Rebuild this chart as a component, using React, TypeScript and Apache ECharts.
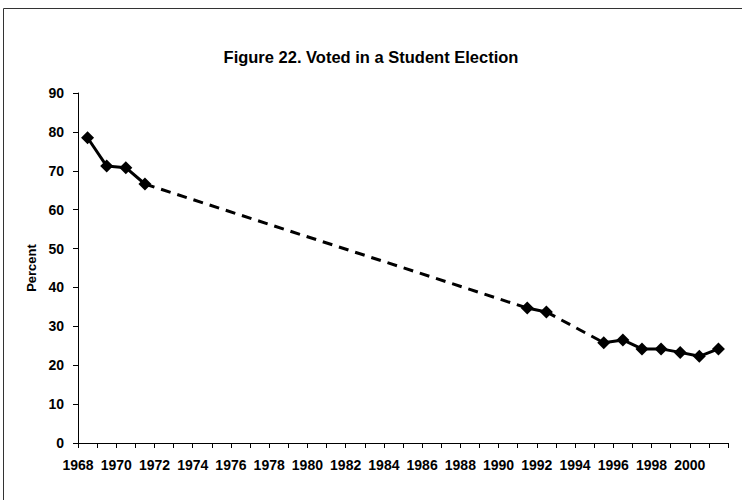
import React, { useEffect, useRef } from "react";
import * as echarts from "echarts";

const TITLE = "Figure 22. Voted in a Student Election";
const Y_NAME = "Percent";
const YEARS = [1968, 1969, 1970, 1971, 1991, 1992, 1995, 1996, 1997, 1998, 1999, 2000, 2001];
const VALUES = [78.5, 71.2, 70.8, 66.6, 34.7, 33.7, 25.8, 26.5, 24.2, 24.2, 23.3, 22.3, 24.2];
const X_MIN = 1968;
const X_MAX = 2002;
const Y_MIN = 0;
const Y_MAX = 90;
const Y_STEP = 10;

const FONT = "'Liberation Sans Narrow', 'Liberation Sans', Arial, sans-serif";

export default function App() {
  const ref = useRef<HTMLDivElement>(null);
  useEffect(() => {
    document.body.style.margin = "0";
    if (!ref.current) return;
    const chart = echarts.init(ref.current, undefined, { renderer: "svg" });

    // each year's value is drawn in the middle of its year band
    const pos = (y: number) => y + 0.5;
    const solid: (number[] | null)[] = [];
    const dashed: (number[] | null)[] = [];
    for (let i = 0; i < YEARS.length; i++) {
      if (i > 0 && YEARS[i] - YEARS[i - 1] > 1) {
        solid.push(null);
        if (dashed.length) dashed.push(null);
        dashed.push([pos(YEARS[i - 1]), VALUES[i - 1]]);
        dashed.push([pos(YEARS[i]), VALUES[i]]);
      }
      solid.push([pos(YEARS[i]), VALUES[i]]);
    }

    chart.setOption({
      animation: false,
      backgroundColor: "#ffffff",
      title: {
        text: TITLE,
        left: "center",
        top: 43,
        textStyle: { fontFamily: FONT, fontSize: 16.5, fontWeight: "bold", color: "#000" },
      },
      graphic: [
        { type: "line", shape: { x1: 3.5, y1: 8.5, x2: 742, y2: 8.5 }, style: { stroke: "#333", lineWidth: 1 } },
        { type: "line", shape: { x1: 3.5, y1: 8.5, x2: 3.5, y2: 500 }, style: { stroke: "#333", lineWidth: 1 } },
      ],
      grid: { left: 78, right: 14, top: 93, bottom: 57 },
      xAxis: {
        type: "value",
        min: X_MIN,
        max: X_MAX,
        interval: 1,
        splitLine: { show: false },
        axisLine: { lineStyle: { color: "#000", width: 1 } },
        axisTick: { show: true, length: 5, lineStyle: { color: "#000" } },
        axisLabel: {
          fontFamily: FONT,
          fontSize: 14,
          fontWeight: "bold",
          color: "#000",
          margin: 15,
          formatter: (v: number) => (v % 2 === 0 && v < X_MAX ? String(v) : ""),
        },
      },
      yAxis: {
        type: "value",
        min: Y_MIN,
        max: Y_MAX,
        interval: Y_STEP,
        name: Y_NAME,
        nameLocation: "middle",
        nameGap: 38,
        nameTextStyle: { fontFamily: FONT, fontSize: 13, fontWeight: "bold", color: "#000" },
        splitLine: { show: false },
        axisLine: { show: true, lineStyle: { color: "#000", width: 1 } },
        axisTick: { show: true, length: 5, lineStyle: { color: "#000" } },
        axisLabel: { fontFamily: FONT, fontSize: 14, fontWeight: "bold", color: "#000", margin: 14 },
      },
      series: [
        {
          type: "line",
          data: dashed,
          connectNulls: false,
          showSymbol: false,
          symbol: "none",
          lineStyle: { color: "#000", width: 3, type: [10, 7] },
          z: 1,
        },
        {
          type: "line",
          data: solid,
          connectNulls: false,
          symbol: "diamond",
          symbolSize: 13,
          itemStyle: { color: "#000" },
          lineStyle: { color: "#000", width: 3 },
          z: 2,
        },
      ],
    });
    return () => chart.dispose();
  }, []);
  return <div ref={ref} style={{ width: 742, height: 500 }} />;
}
